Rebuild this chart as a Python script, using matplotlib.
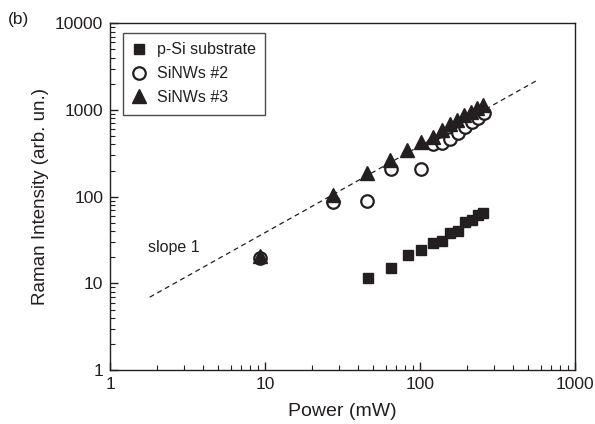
import numpy as np
import matplotlib.pyplot as plt
from matplotlib.ticker import LogLocator, NullFormatter, FixedFormatter, FixedLocator

plt.rcParams['font.family'] = ['Liberation Sans', 'DejaVu Sans']

ink = '#231f20'

# p-Si substrate
psi_power = [46, 65, 83, 101, 121, 139, 157, 176, 194, 215, 237, 254]
psi_int = [11.4, 14.9, 21.2, 24.2, 29.3, 31.2, 38.5, 40.5, 51, 53.5, 61, 64]

# SiNWs #2
nw2_power = [9.3, 27.6, 45.7, 64.5, 101, 121, 139, 157, 176, 194, 215, 237, 258]
nw2_int = [19.4, 87, 89.5, 206, 206, 403, 410, 456, 545, 638, 728, 796, 910]

# SiNWs #3
nw3_power = [9.3, 27.6, 45.7, 64, 82, 102, 121, 139, 156, 173, 192, 212, 232, 254]
nw3_int = [20.5, 104, 185, 264, 344, 428, 489, 584, 685, 762, 870, 950, 1038, 1135]

# slope-1 guide line
guide_power = [1.8, 570]
guide_coef = 3.85

fig = plt.figure(figsize=(5.95, 4.24), dpi=100)
ax = fig.add_axes([0.185, 0.127, 0.7815, 0.8184])

ax.plot(guide_power, [guide_coef * p for p in guide_power], '--', color=ink,
        lw=0.9, dashes=(4, 3), zorder=1)
ax.plot(psi_power, psi_int, 's', color=ink, ms=7.5, ls='none',
        label='p-Si substrate', zorder=3)
ax.plot(nw2_power, nw2_int, 'o', mfc='white', mec=ink, mew=1.6, ms=9,
        ls='none', label='SiNWs #2', zorder=3)
ax.plot(nw3_power, nw3_int, '^', color=ink, ms=9.5, ls='none',
        label='SiNWs #3', zorder=4)

ax.set_xscale('log')
ax.set_yscale('log')
ax.set_xlim(1, 1000)
ax.set_ylim(1, 10000)

# ticks: plain numbers, minor ticks inward, none on top/right
xt = [1, 10, 100, 1000]
yt = [1, 10, 100, 1000, 10000]
ax.xaxis.set_major_locator(FixedLocator(xt))
ax.xaxis.set_major_formatter(FixedFormatter([str(v) for v in xt]))
ax.yaxis.set_major_locator(FixedLocator(yt))
ax.yaxis.set_major_formatter(FixedFormatter([str(v) for v in yt]))
ax.xaxis.set_minor_locator(LogLocator(base=10, subs=np.arange(2, 10)))
ax.yaxis.set_minor_locator(LogLocator(base=10, subs=np.arange(2, 10)))
ax.xaxis.set_minor_formatter(NullFormatter())
ax.yaxis.set_minor_formatter(NullFormatter())

ax.tick_params(which='both', direction='in', top=False, right=False,
               colors=ink, labelsize=12.5, pad=5)
ax.tick_params(which='major', length=6, width=1)
ax.tick_params(which='minor', length=3.5, width=0.8)
for s in ax.spines.values():
    s.set_color(ink)
    s.set_linewidth(1)

ax.set_xlabel('Power (mW)', fontsize=14, color=ink, labelpad=8)
ax.set_ylabel('Raman Intensity (arb. un.)', fontsize=13.5, color=ink, labelpad=4)

ax.text(1.75, 26, 'slope 1', fontsize=11.5, color=ink, va='center')
fig.text(0.013, 0.955, '(b)', fontsize=12.5, color=ink, va='center')

leg = ax.legend(loc='upper left', bbox_to_anchor=(0.028, 0.972), frameon=True,
                fancybox=False, edgecolor=ink, fontsize=11.5, handlelength=0.8,
                handletextpad=0.7, borderpad=0.6, labelspacing=0.55,
                borderaxespad=0)
leg.get_frame().set_linewidth(1)
for t in leg.get_texts():
    t.set_color(ink)

fig.savefig('out.png', dpi=100)
